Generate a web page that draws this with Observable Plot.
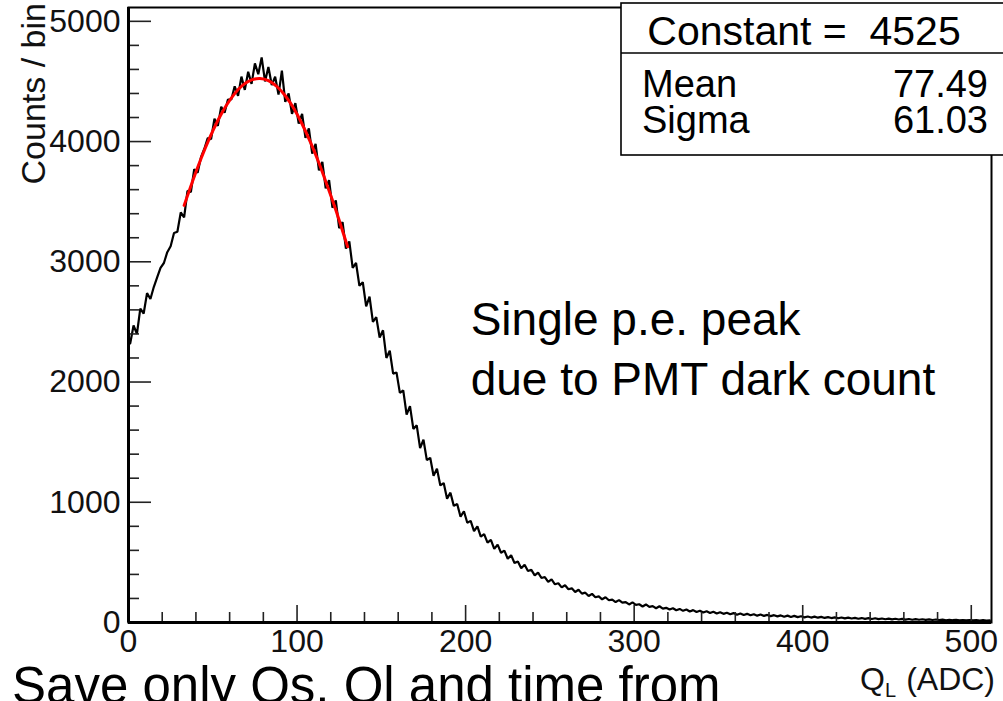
<!DOCTYPE html>
<html><head><meta charset="utf-8">
<script src="https://cdn.jsdelivr.net/npm/d3@7"></script>
<script src="https://cdn.jsdelivr.net/npm/@observablehq/plot@0.6"></script>
<style>
html,body{margin:0;padding:0;background:#fff;overflow:hidden;}
#chart{position:relative;width:1003px;height:701px;overflow:hidden;}
</style></head><body><div id="chart"></div>
<script>
// ---------- data ----------
const binStart = 0, binWidth = 2;
const counts = [
2320,2470,2400,2610,2570,2740,2690,2790,2870,2950,2990,3080,3130,3240,3250,3410,
3370,3590,3580,3770,3740,3870,3940,4030,4020,4190,4130,4290,4240,4350,4350,4460,
4380,4540,4430,4580,4480,4650,4560,4700,4500,4620,4470,4540,4390,4590,4330,4400,
4230,4320,4150,4230,4030,4110,3900,3980,3760,3830,3610,3680,3450,3510,3280,3330,
3110,3170,2950,2990,2800,2830,2630,2710,2500,2540,2370,2430,2200,2260,2070,2080,
1910,1930,1730,1800,1610,1640,1450,1520,1350,1370,1220,1280,1140,1160,1030,1080,
970,985,880,925,830,845,760,800,715,735,665,688,612,648,580,598,
530,560,495,508,452,480,428,438,392,415,370,378,337,358,318,326,
292,310,276,284,254,272,240,248,220,238,210,217,193,210,185,190,
170,186,165,170,150,167,146,152,133,150,130,136,119,135,116,122,
108,119,102,113,97,108,92,103,87,98,83,93,79,89,75,85,
72,81,68,78,65,75,62,72,60,69,57,66,55,63,53,61,
51,59,48,57,46,55,45,52,43,50,41,49,40,47,38,45,
37,43,35,42,34,40,33,38,31,37,30,36,29,35,28,33,
27,32,26,31,25,30,24,29,23,28,23,27,22,26,21,25,
20,24,19,23,19,22,18,21,17,21,17,20,16,19,16,18
];
const fitX = [33,38,43,48,53,58,63,68,73,78,83,88,93,98,103,108,113,118,123,128,130];
const fitY = [3469,3670,3857,4026,4175,4300,4399,4471,4513,4525,4507,4458,4381,4277,4146,3993,3821,3630,3431,3213,3125];
const xMajorTicks = [0,100,200,300,400,500];
const xMinorTicks = [20,40,60,80,120,140,160,180,220,240,260,280,320,340,360,380,420,440,460,480];
const yMajorTicks = [0,1000,2000,3000,4000,5000];
const yMinorTicks = [200,400,600,800,1200,1400,1600,1800,2200,2400,2600,2800,3200,3400,3600,3800,4200,4400,4600,4800];
const yTitle = "Counts / bin";
const xTitleMain = "Q", xTitleSub = "L", xTitleUnit = "(ADC)";
const statsHeader = "Constant =  4525";
const statsNames = ["Mean","Sigma"];
const statsValues = ["77.49","61.03"];
const annotationLines = ["Single p.e. peak","due to PMT dark count"];
const footerText = "Save only Qs, Ql and time from";

// ---------- build ----------
const hist = [{x: binStart, y: 0}, {x: binStart, y: counts[0]}]
  .concat(counts.map((c,i)=>({x: binStart + (i+0.5)*binWidth, y: c})));
const fit = fitX.map((x,i)=>({x, y: fitY[i]}));
const annot = annotationLines.map((t,i)=>({t, x: 203, y: i===0 ? 2390 : 1890}));

const W=1003, H=701, mL=128, mR=12, mT=7, mB=79;
const iW = W-mL-mR, iH = H-mT-mB;
const FONT = "'Liberation Sans', Arial, Helvetica, sans-serif";

const plot = Plot.plot({
  width: W, height: H, marginLeft: mL, marginRight: mR, marginTop: mT, marginBottom: mB,
  style: {fontFamily: FONT, background: "white", color: "black", overflow: "visible"},
  x: {domain: [0, 512]},
  y: {domain: [0, 5115]},
  marks: [
    Plot.line(hist, {x: "x", y: "y", curve: "linear", stroke: "black", strokeWidth: 2.2, strokeLinejoin: "miter"}),
    Plot.line(fit, {x: "x", y: "y", curve: "natural", stroke: "#ff0000", strokeWidth: 3}),
    Plot.tickY(yMajorTicks, {y: d=>d, insetRight: iW-23, stroke: "#222", strokeWidth: 1.6}),
    Plot.tickY(yMinorTicks, {y: d=>d, insetRight: iW-11, stroke: "#222", strokeWidth: 1.6}),
    Plot.tickX(xMajorTicks, {x: d=>d, insetTop: iH-17, stroke: "#222", strokeWidth: 1.6}),
    Plot.tickX(xMinorTicks, {x: d=>d, insetTop: iH-10, stroke: "#222", strokeWidth: 1.6}),
    Plot.axisY(yMajorTicks, {tickSize: 0, tickPadding: 8, fontSize: 32, fill: "#111", label: null, tickFormat: "d"}),
    Plot.axisX(xMajorTicks, {tickSize: 0, tickPadding: 7, fontSize: 32, fill: "#111", label: null, tickFormat: "d"}),
    Plot.frame({stroke: "black", strokeWidth: 2}),
    Plot.ruleX([0], {stroke: "black", strokeWidth: 3}),
    Plot.ruleY([0], {stroke: "black", strokeWidth: 3}),
    Plot.text(annot, {x: "x", y: "y", text: "t", textAnchor: "start", lineAnchor: "bottom", fontSize: 46, fill: "black"})
  ]
});
document.getElementById("chart").appendChild(plot);

const svg = d3.select(plot);
// y title
svg.append("text").attr("transform", "translate(45,3) rotate(-90)")
  .attr("text-anchor", "end").attr("font-family", FONT).attr("font-size", 34).attr("fill", "#111")
  .text(yTitle);
// x title
const xt = svg.append("text").attr("x", 995).attr("y", 690).attr("text-anchor", "end")
  .attr("font-family", FONT).attr("font-size", 32).attr("fill", "#111");
xt.append("tspan").text(xTitleMain);
xt.append("tspan").attr("font-size", 20).attr("dy", 7).text(xTitleSub);
xt.append("tspan").attr("dy", -7).attr("dx", 10).text(xTitleUnit);
// stats box
const g = svg.append("g");
g.append("rect").attr("x", 621).attr("y", 3).attr("width", 420).attr("height", 152)
  .attr("fill", "white").attr("stroke", "black").attr("stroke-width", 1.6);
g.append("line").attr("x1", 621).attr("x2", 1010).attr("y1", 53).attr("y2", 53)
  .attr("stroke", "black").attr("stroke-width", 1.4);
g.append("text").attr("x", 804).attr("y", 45).attr("text-anchor", "middle")
  .style("white-space", "pre")
  .attr("font-family", FONT).attr("font-size", 41).attr("fill", "black").text(statsHeader);
statsNames.forEach((n, i) => {
  const by = i === 0 ? 97 : 133;
  g.append("text").attr("x", 642).attr("y", by).attr("text-anchor", "start").attr("font-family", FONT).attr("font-size", 38).attr("fill", "black").text(n);
  g.append("text").attr("x", 988).attr("y", by).attr("text-anchor", "end").attr("font-family", FONT).attr("font-size", 38).attr("fill", "black").text(statsValues[i]);
});
// footer
svg.append("text").attr("x", 12).attr("y", 703).attr("text-anchor", "start").attr("font-family", FONT).attr("font-size", 51).attr("fill", "black").text(footerText);
</script>
</body></html>
